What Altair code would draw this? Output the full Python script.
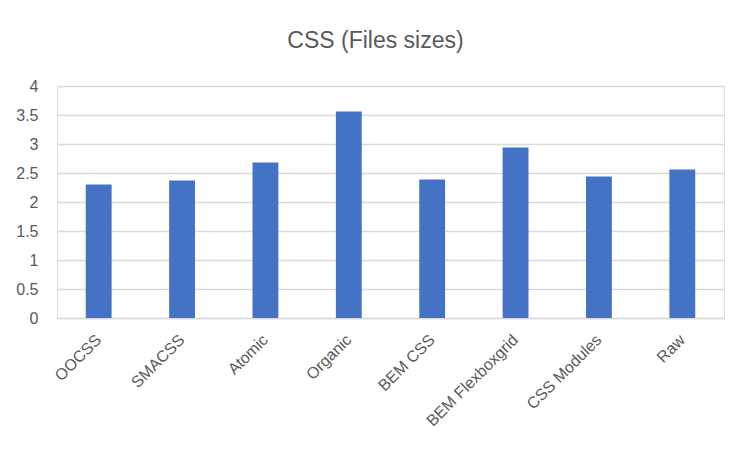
import altair as alt
import pandas as pd

categories = ["OOCSS", "SMACSS", "Atomic", "Organic", "BEM CSS", "BEM Flexboxgrid", "CSS Modules", "Raw"]
sizes = [2.30, 2.37, 2.68, 3.56, 2.39, 2.94, 2.44, 2.56]
y_ticks = [0, 0.5, 1, 1.5, 2, 2.5, 3, 3.5, 4]

df = pd.DataFrame({"name": categories, "size": sizes})

FONT = "Liberation Sans"
GREY = "#595959"

chart = alt.Chart(df).mark_bar(color="#4472C4").encode(
    x=alt.X("name:N", sort=categories, title=None,
            scale=alt.Scale(paddingInner=0.69, paddingOuter=0.345),
            axis=alt.Axis(labelAngle=-45, labelAlign="right", labelBaseline="middle",
                          labelPadding=19, ticks=False, domain=True, domainColor="#D9D9D9",
                          domainWidth=1.5, labelFont=FONT, labelFontSize=16, labelColor=GREY,
                          grid=False)),
    y=alt.Y("size:Q", title=None, scale=alt.Scale(domain=[0, 4], nice=False),
            axis=alt.Axis(values=y_ticks, format="~g", ticks=False, domain=False,
                          labelPadding=19, gridColor="#D9D9D9", gridWidth=1.5,
                          labelFont=FONT, labelFontSize=16, labelColor=GREY)),
).properties(
    width=667, height=232,
    title=alt.Title("CSS (Files sizes)", font=FONT, fontSize=23, fontWeight="normal",
                    color=GREY, anchor="middle", offset=25, dx=-15),
    autosize=alt.AutoSizeParams(type="none"),
    padding={"left": 49, "top": 78, "right": 20, "bottom": 126},
).configure_view(stroke=None).configure(background="white")

chart.save("out.html", embed_options={"renderer": "svg", "actions": False})
